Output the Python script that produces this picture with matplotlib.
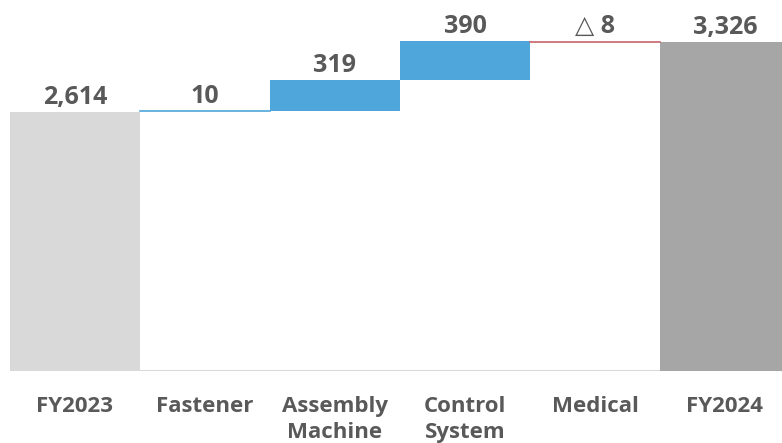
import numpy as np
import matplotlib.pyplot as plt

plt.rcParams['font.family'] = ['Open Sans', 'DejaVu Sans']

# sales bridge FY2023 -> FY2024 by segment
categories = ['FY2023', 'Fastener', 'Assembly\nMachine', 'Control\nSystem', 'Medical', 'FY2024']
start_total = 2614
changes = [10, 319, 390, -8]
end_total = 3326
value_labels = ['2,614', '10', '319', '390', '\u25b3 8', '3,326']

#-----------------------------------------------------------------------------

fig = plt.figure(figsize=(7.82, 4.43), dpi=100)
ax = fig.add_axes([10/782, 72/443, 780/782, 371/443])

x = np.arange(len(categories))
blue = '#4ea6da'
txt = '#595959'

# totals
ax.bar(x[0], start_total, width=1.0, color='#d9d9d9', zorder=2)
ax.bar(x[-1], end_total, width=1.0, color='#a6a6a6', zorder=2)

# segment steps
level = start_total
tops = [start_total]
for i, d in enumerate(changes):
    xi = x[i + 1]
    lo, hi = min(level, level + d), max(level, level + d)
    if abs(d) < 20:
        # small steps show up as just a line
        col = blue if d > 0 else '#c9646a'
        ax.plot([xi - 0.5, xi + 0.5], [level + d, level + d], color=col, lw=1.2, zorder=3)
    else:
        ax.bar(xi, hi - lo, bottom=lo, width=1.0, color=blue, zorder=2)
    level += d
    tops.append(hi)
tops.append(end_total)

ax.axhline(0, color='#d9d9d9', lw=1.5, zorder=1)

for xi, t, lab in zip(x, tops, value_labels):
    ax.text(xi, t + 20, lab, ha='center', va='bottom', fontsize=18,
            fontweight='bold', color=txt)

ax.set_xticks(x)
ax.set_xticklabels(categories, fontsize=16, fontweight='bold', color=txt,
                   linespacing=1.3, va='top')
ax.tick_params(axis='x', length=0, pad=18)
ax.set_yticks([])
for s in ax.spines.values():
    s.set_visible(False)

ax.set_xlim(-0.5, 5.5)
ax.set_ylim(0, 3749)

fig.savefig('out.png', dpi=100)
